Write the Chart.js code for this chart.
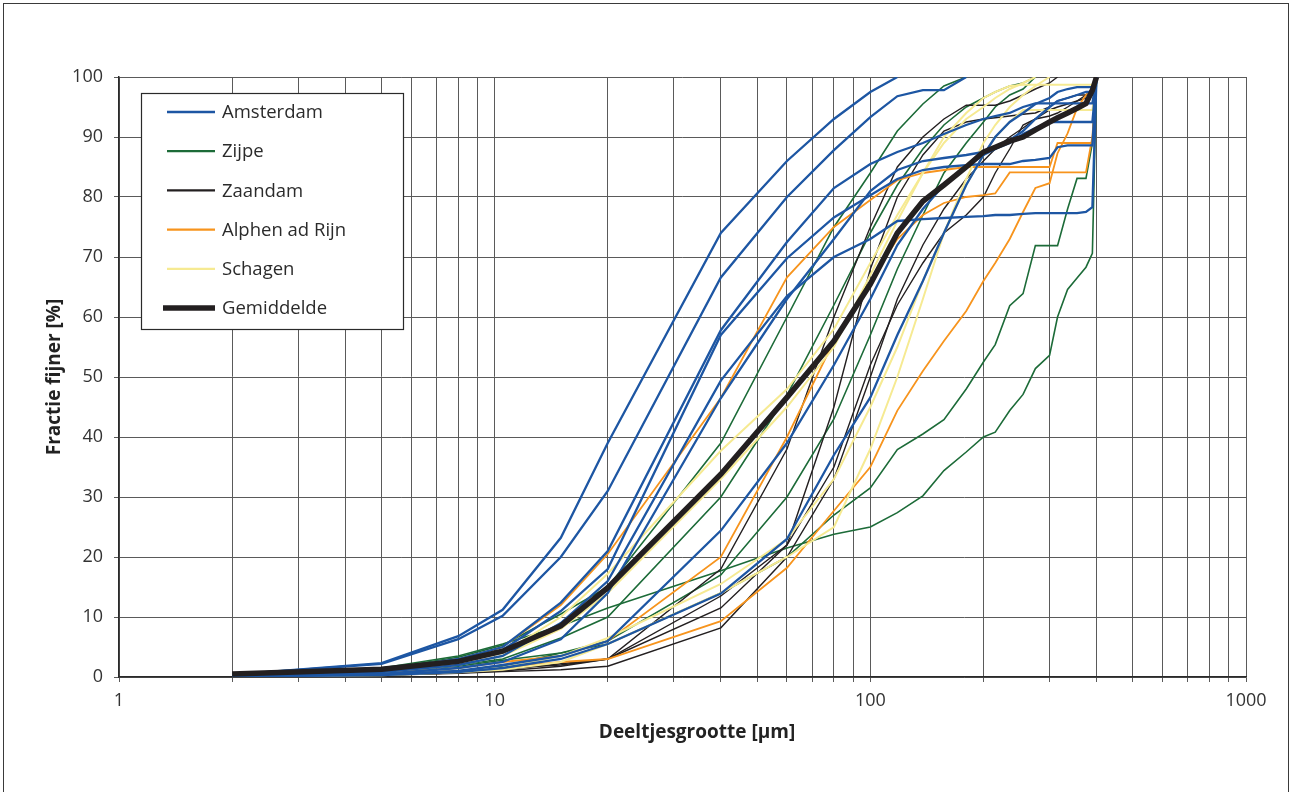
<!DOCTYPE html>
<html>
<head>
<meta charset="utf-8">
<title>Korrelverdeling</title>
<script src="https://cdn.jsdelivr.net/npm/chart.js@4.4.1/dist/chart.umd.min.js"></script>
<style>
  html, body { margin: 0; padding: 0; background: #fff; }
  #wrap { position: relative; width: 1291px; height: 792px; overflow: hidden; }
  #frame { position: absolute; left: 3px; top: 3px; width: 1286px; height: 830px;
           border: 1px solid #3a3a3a; box-sizing: border-box; pointer-events: none; }
  canvas { position: absolute; left: 0; top: 0; }
</style>
</head>
<body>
<div id="wrap">
  <canvas id="chart" width="1291" height="792"></canvas>
  <div id="frame"></div>
</div>
<script>
// Particle sizes (µm) at which the cumulative passing fraction is given
const sizes = [2, 5, 8, 10.5, 15, 20, 40, 60, 80, 100, 118, 138, 157, 180, 200, 215, 235, 255, 275, 300, 315, 335, 355, 375, 390, 400];

// Fraction finer (%) per sample, grouped by location; null = no reading
const amsterdam = [
  [0.4, 2.3, 6.8, 11.2, 23.2, 39, 74, 86, 93, 97.5, 100, null, null, null, null, null, null, null, null, null, null, null, null, null, null, null],
  [0.4, 2.2, 6.3, 10.2, 20, 31, 66.6, 80, 87.8, 93.3, 96.8, 97.8, 97.8, 100, null, null, null, null, null, null, null, null, null, null, null, null],
  [0.2, 1.2, 3, 5, 12.4, 21, 57.8, 72.5, 81.5, 85.5, 87.5, 89, 90.5, 92, 93, 93.5, 94, 95, 95.6, 95.6, 95.6, 95.6, 95.6, 95.6, 95.6, 100],
  [0.2, 1, 2.5, 4.5, 11, 18, 57, 69.8, 76.6, 80.3, 83, 84.5, 85, 85.3, 85.5, 85.5, 85.5, 86, 86.2, 86.5, 88.3, 88.6, 88.6, 88.6, 88.6, 100],
  [0.2, 0.8, 2, 3.5, 9, 16, 49.4, 63.5, 70, 73, 76, 76.3, 76.5, 76.7, 76.8, 77, 77, 77.2, 77.3, 77.3, 77.3, 77.3, 77.3, 77.5, 78.3, 100],
  [0.1, 0.5, 1.5, 2.5, 6.3, 14, 46.5, 63, 73, 81, 84.5, 86, 86.5, 87, 87.5, 88, 89, 90.5, 91.5, 92.5, 92.5, 92.5, 92.5, 92.5, 92.5, 100],
  [0.1, 0.4, 1, 2, 3.5, 6, 24.4, 39, 52, 63, 72, 78, 82, 85, 87, 88, 89.5, 91, 93, 95, 96, 96.5, 97, 97.5, 97.5, 100],
  [0.1, 0.3, 0.8, 1.5, 3, 5.5, 13.9, 23, 37, 46.6, 57, 66, 74, 82, 87, 90, 92.5, 94, 95.5, 96.5, 97.5, 98, 98.3, 98.3, 98.3, 100]
];
const zijpe = [
  [0.3, 1.3, 3.3, 5.3, 10.5, 15, 39, 60, 75, 84, 91, 95.5, 98.5, 100, null, null, null, null, null, null, null, null, null, null, null, null],
  [0.2, 0.8, 2, 3, 6.5, 10, 30, 47, 62, 74, 82, 88, 92, 95, 96.5, 97.5, 98.5, 99, 100, null, null, null, null, null, null, null],
  [0.1, 0.5, 1, 1.8, 4, 6, 17, 30, 43, 57, 68, 77, 84, 89, 92.5, 95, 97, 98, 100, null, null, null, null, null, null, null],
  [0.2, 0.8, 1.8, 2.8, 4, 5.5, 14, 20, 27, 31.5, 37.9, 40.5, 42.9, 48, 52.5, 55.4, 61.9, 63.9, 71.9, 71.9, 71.9, 78, 83.1, 83.1, 89, 100],
  [0.4, 1.5, 3.5, 5.5, 8.5, 11.5, 17.7, 21.5, 23.8, 25, 27.4, 30.2, 34.4, 37.5, 40, 40.8, 44.4, 47.1, 51.4, 53.6, 60, 64.6, 66.5, 68.3, 70.6, 100]
];
const zaandam = [
  [0.1, 0.3, 0.6, 0.9, 1.2, 1.8, 8.2, 20, 33, 50, 63, 72, 78, 83, 86, 88, 90, 91.5, 93, 94.5, 95, 95.5, 96, 96.5, 97, 100],
  [0.1, 0.3, 0.7, 1, 1.8, 3, 11.5, 22, 45, 68, 80, 87, 91, 92.5, 93, 93.2, 93.5, 93.8, 94, 95, 96, 96.5, 97, 97, 97, 100],
  [0.2, 0.5, 1, 1.5, 2, 3, 18, 38, 60, 75, 85, 90, 93, 95.3, 95.3, 95.3, 96, 97, 98, 99, 100, null, null, null, null, null],
  [0.1, 0.3, 0.8, 1.2, 2.2, 3, 13.5, 22, 35, 52, 62, 69, 74, 77, 80, 84, 88, 92, 93, 93.5, 94, 95, 96, 97, 98, 100]
];
const alphen = [
  [0.3, 1.2, 3, 5, 12, 20.5, 46.5, 66.6, 75, 79.5, 82.8, 84, 84.5, 85, 85, 85, 85, 85, 85, 85, 89, 89, 89, 89, 89, 100],
  [0.2, 0.6, 1.5, 2.5, 3.5, 6, 20, 40, 56, 66, 73, 77, 79, 80, 80.3, 80.6, 84.1, 84.1, 84.1, 84.1, 84.1, 84.1, 84.1, 84.1, 90, 100],
  [0.1, 0.4, 1, 1.5, 2.5, 3, 9.3, 18.2, 27.7, 35, 44.4, 51, 56, 61, 66, 69, 73, 77.5, 81.5, 82.3, 87.3, 90.6, 94.8, 97, 98, 100]
];
const schagen = [
  [0.3, 1, 2.4, 4, 10, 17.2, 37.7, 48, 58, 69, 77, 84, 89, 93, 95, 96.5, 98, 99, 100, null, null, null, null, null, null, null],
  [0.2, 0.8, 2, 3.5, 8, 14, 33, 45, 55, 67, 76, 84, 90, 94, 96.5, 97.5, 98.5, 98.7, 98.7, 98.7, 98.7, 98.7, 98.7, 98.7, 98.7, 100],
  [0.1, 0.4, 1, 1.6, 3.5, 6.5, 15.5, 23, 33, 45, 55, 66, 74, 82, 87, 90, 92.5, 94.5, 94.5, 94.5, 94.5, 94.5, 94.5, 94.5, 94.5, 100],
  [0.1, 0.3, 0.8, 1.2, 2.5, 5.5, 14, 20, 25, 38, 50, 63, 74, 83, 89, 92, 95, 97, 98.5, 100, null, null, null, null, null, null]
];
const gemiddelde = [0.5, 1.3, 2.6, 4.3, 8.5, 14.9, 33.8, 46.6, 56, 65.5, 74, 79.3, 82, 85, 87.5, 88.3, 89.3, 90, 91.2, 92.5, 93.2, 94, 94.8, 95.6, 97.8, 100];

// Legend entries and styling per group
const groupNames  = ['Amsterdam', 'Zijpe', 'Zaandam', 'Alphen ad Rijn', 'Schagen', 'Gemiddelde'];
const groupColors = ['#1d56a3', '#1c6b38', '#231f20', '#f7941d', '#f6ea92', '#231f20'];
const groupWidths = [2.3, 1.6, 1.4, 1.8, 2, 5.5];

// Axis ticks and titles
const xGridValues = [];
[1, 10, 100].forEach(d => { for (let k = 1; k < 10; k++) xGridValues.push(d * k); });
xGridValues.push(1000);
const xTickLabels = { 1: '1', 10: '10', 100: '100', 1000: '1000' };
const yTicks = [0, 10, 20, 30, 40, 50, 60, 70, 80, 90, 100];
const xTitle = 'Deeltjesgrootte [µm]';
const yTitle = 'Fractie fijner [%]';

const FONT = "'Open Sans', 'Noto Sans', sans-serif";

function toPoints(values) {
  const pts = [];
  values.forEach((v, i) => { if (v !== null) pts.push({ x: sizes[i], y: v }); });
  return pts;
}

const groupSeries = [amsterdam, zijpe, zaandam, alphen, schagen];
const drawOrder = [1, 4, 3, 2, 1];
const datasets = [];
groupSeries.forEach((list, gi) => {
  list.forEach(values => {
    datasets.push({
      label: groupNames[gi],
      data: toPoints(values),
      borderColor: groupColors[gi],
      borderWidth: groupWidths[gi],
      pointRadius: 0,
      tension: 0,
      fill: false,
      order: drawOrder[gi]
    });
  });
});
datasets.push({
  label: groupNames[5],
  data: toPoints(gemiddelde),
  borderColor: groupColors[5],
  borderWidth: groupWidths[5],
  pointRadius: 0,
  tension: 0,
  fill: false,
  order: 0
});

// Boxed legend inside the plot area, upper left, plus the x-axis title
const boxLegend = {
  id: 'boxLegend',
  afterDraw(chart) {
    const ctx = chart.ctx;
    const x0 = 141.5, y0 = 93.5, w = 262, h = 236;
    ctx.save();
    ctx.fillStyle = '#fff';
    ctx.fillRect(x0, y0, w, h);
    ctx.strokeStyle = '#2a2a2a';
    ctx.lineWidth = 1.2;
    ctx.strokeRect(x0, y0, w, h);
    ctx.font = '18.5px ' + FONT;
    ctx.textBaseline = 'middle';
    ctx.textAlign = 'left';
    groupNames.forEach((name, i) => {
      const y = 112 + i * 39.2;
      ctx.strokeStyle = groupColors[i];
      ctx.lineWidth = i === 5 ? 5.5 : 2.3;
      ctx.lineCap = 'butt';
      ctx.beginPath();
      ctx.moveTo(i === 5 ? 163 : 167, y);
      ctx.lineTo(215, y);
      ctx.stroke();
      ctx.fillStyle = '#2b2b2b';
      ctx.fillText(name, 222, y + 1);
    });

    ctx.font = 'bold 19px ' + FONT;
    ctx.fillStyle = '#222';
    ctx.textAlign = 'center';
    ctx.fillText(xTitle, 697, 733);
    ctx.restore();
  }
};

new Chart(document.getElementById('chart'), {
  type: 'line',
  data: { datasets },
  options: {
    responsive: false,
    animation: false,
    layout: { padding: { left: 0, top: 77, right: 45, bottom: 35 } },
    plugins: { legend: { display: false }, tooltip: { enabled: false } },
    scales: {
      x: {
        type: 'logarithmic',
        min: 1,
        max: 1000,
        afterBuildTicks: s => { s.ticks = xGridValues.map(v => ({ value: v })); },
        afterFit: s => { s.height = 80; },
        grid: { color: '#5a5a5a', lineWidth: 1, tickLength: 5, drawTicks: true },
        border: { color: '#2a2a2a', width: 1.5 },
        ticks: {
          autoSkip: false, maxRotation: 0, minRotation: 0, padding: 8,
          color: '#333', font: { family: FONT, size: 18 },
          callback: v => xTickLabels[v] || ''
        },
        title: { display: false }
      },
      y: {
        min: 0,
        max: 100,
        afterBuildTicks: s => { s.ticks = yTicks.map(v => ({ value: v })); },
        afterFit: s => { s.width = 119; },
        grid: { color: '#5a5a5a', lineWidth: 1, tickLength: 5, drawTicks: true },
        border: { color: '#2a2a2a', width: 1.5 },
        ticks: { padding: 11, color: '#333', font: { family: FONT, size: 18 } },
        title: {
          display: true, text: yTitle, color: '#222',
          font: { family: FONT, size: 19, weight: 'bold' },
          padding: { top: 43.6, bottom: 0 }
        }
      }
    }
  },
  plugins: [boxLegend]
});
</script>
</body>
</html>
